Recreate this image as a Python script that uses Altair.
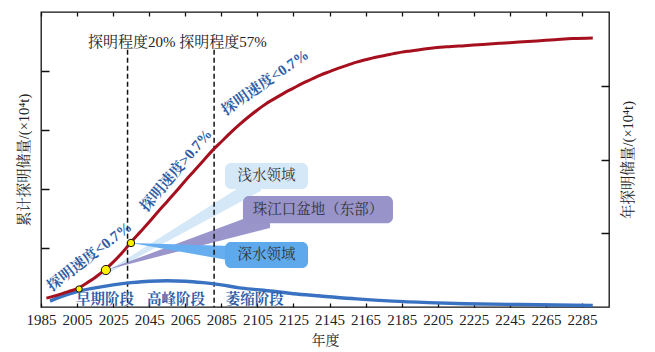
import altair as alt
import pandas as pd

FONT = "Liberation Serif, Times New Roman, Noto Serif CJK SC, Noto Sans CJK SC"

# ---- data -----------------------------------------------------------
cum_years = [1988, 1995, 2000, 2005, 2010, 2015, 2020, 2025, 2030, 2035, 2040, 2045,
             2050, 2055, 2060, 2065, 2070, 2075, 2080, 2085, 2090, 2095, 2100, 2105,
             2110, 2115, 2120, 2125, 2130, 2135, 2140, 2145, 2150, 2155, 2160, 2165,
             2170, 2175, 2180, 2185, 2190, 2195, 2200, 2210, 2220, 2230, 2240, 2250,
             2260, 2270, 2280, 2291]
cum_vals = [0.15, 0.21, 0.26, 0.31, 0.40, 0.50, 0.62, 0.76, 0.92, 1.10, 1.27, 1.44,
            1.62, 1.79, 1.96, 2.14, 2.31, 2.48, 2.65, 2.80, 2.95, 3.09, 3.22, 3.34,
            3.45, 3.54, 3.63, 3.71, 3.79, 3.86, 3.93, 3.99, 4.05, 4.10, 4.15, 4.19,
            4.23, 4.26, 4.29, 4.32, 4.34, 4.36, 4.38, 4.41, 4.43, 4.45, 4.47, 4.49,
            4.51, 4.53, 4.55, 4.56]

ann_years = [1990, 1995, 2005, 2015, 2025, 2035, 2045, 2055, 2065, 2075, 2085, 2095,
             2105, 2115, 2125, 2140, 2160, 2180, 2200, 2220, 2250, 2291]
ann_vals = [0.08, 0.13, 0.21, 0.26, 0.30, 0.33, 0.35, 0.355, 0.35, 0.33, 0.30, 0.26,
            0.235, 0.21, 0.18, 0.15, 0.11, 0.08, 0.06, 0.045, 0.034, 0.02]

series_names = ["累计探明储量", "年探明储量"]
x_ticks = list(range(1985, 2286, 20))

# milestone points on the cumulative curve
key_years = [2006.1, 2021.0, 2034.9]
key_vals = [0.305, 0.627, 1.085]
key_sizes = [40, 85, 55]

stage_names = ["早期阶段", "高峰阶段", "萎缩阶段"]
stage_years = [2020.5, 2059.9, 2103.5]

milestone_years = [2033, 2081]

speed_labels = ["探明速度<0.7%", "探明速度>0.7%", "探明速度<0.7%"]
speed_years = [2011.8, 2059.9, 2109.2]
speed_vals = [0.86, 2.32, 3.81]
speed_angles = [322, 310, 325]

box_labels = ["浅水领域", "珠江口盆地（东部）", "深水领域"]
box_colors = ["#d5e8f8", "#9893c9", "#5ea8ec"]
box_x1 = [2087.0, 2097.0, 2087.0]
box_x2 = [2133.1, 2180.2, 2133.1]
box_y1 = [2.44, 1.88, 1.10]
box_y2 = [2.00, 1.42, 0.66]
wedge_colors = ["#d5e8f8", "#9a96cc", "#66aef0"]
wedge_base_x = [2107.0, 2112.0, 2095.4]
wedge_base_hi = [2.26, 1.66, 1.03]
wedge_base_lo = [1.97, 1.34, 0.76]

# ---- scales ---------------------------------------------------------
XS = alt.Scale(domain=[1985, 2300], nice=False, zero=False)
YL = alt.Scale(domain=[0, 5], nice=False, zero=True)
YR = alt.Scale(domain=[0, 4], nice=False, zero=True)
CS = alt.Scale(domain=series_names, range=["#a50f1e", "#3a72c2"])

W, H = 568, 295


def xnone(field="year"):
    return alt.X(f"{field}:Q", scale=XS, axis=None)


def ynone(field="value"):
    return alt.Y(f"{field}:Q", scale=YL, axis=None)


df_cum = pd.DataFrame({"year": cum_years, "value": cum_vals, "series": series_names[0]})
df_ann = pd.DataFrame({"year": ann_years, "value": ann_vals, "series": series_names[1]})

layers = []

# wedges
for i in range(3):
    dfw = pd.DataFrame({
        "year": [key_years[i], wedge_base_x[i]],
        "hi": [key_vals[i], wedge_base_hi[i]],
        "lo": [key_vals[i], wedge_base_lo[i]],
    })
    layers.append(alt.Chart(dfw).mark_area(color=wedge_colors[i], opacity=1).encode(
        x=xnone(), y=ynone("hi"), y2="lo:Q"))

# boxes
for i in range(3):
    dfb = pd.DataFrame({"x1": [box_x1[i]], "x2": [box_x2[i]], "y1": [box_y1[i]],
                        "y2": [box_y2[i]], "label": [box_labels[i]]})
    layers.append(alt.Chart(dfb).mark_rect(color=box_colors[i], cornerRadius=6).encode(
        x=xnone("x1"), x2="x2:Q", y=ynone("y1"), y2="y2:Q"))
    layers.append(alt.Chart(dfb).transform_calculate(
        xm="(datum.x1 + datum.x2) / 2", ym="(datum.y1 + datum.y2) / 2"
    ).mark_text(font=FONT, fontSize=14.5, color="#333333").encode(
        x=xnone("xm"), y=ynone("ym"), text="label:N"))

# dashed milestone lines
df_ms = pd.DataFrame({"year": milestone_years, "top": [4.36, 4.36], "bot": [0, 0]})
layers.append(alt.Chart(df_ms).mark_rule(color="#111111", strokeWidth=1.5,
                                         strokeDash=[5, 3]).encode(
    x=xnone(), y=ynone("top"), y2="bot:Q"))

# annual line (right axis) + top ticks
layers.append(alt.Chart(df_ann).mark_line(strokeWidth=3.4, interpolate="monotone").encode(
    x=alt.X("year:Q", scale=XS, axis=alt.Axis(
        orient="bottom", offset=-H, values=x_ticks, labels=False, ticks=True,
        tickSize=4, tickColor="#111", tickWidth=1.3, domain=False, grid=False, title=None)),
    y=alt.Y("value:Q", scale=YR, axis=alt.Axis(
        orient="left", offset=-W, values=[1, 2, 3], labels=False, tickSize=8,
        tickColor="#111", tickWidth=1.5, domain=False, grid=False,
        title="年探明储量/(×10⁴t)", titleAngle=270, titleX=19, titleY=H / 2,
        titleAlign="center", titleBaseline="middle", titleFont=FONT, titleFontSize=14.5,
        titleFontWeight="normal", titleColor="#222")),
    color=alt.Color("series:N", scale=CS, legend=None)))

# cumulative line (left axis) + bottom labels
layers.append(alt.Chart(df_cum).mark_line(strokeWidth=3, interpolate="monotone").encode(
    x=alt.X("year:Q", scale=XS, axis=alt.Axis(
        orient="bottom", values=x_ticks, ticks=False, domain=False, grid=False,
        format="d", labelFont=FONT, labelFontSize=15, labelColor="#222",
        labelPadding=5, labelFlush=False, labelOverlap=False,
        title="年度", titleFont=FONT, titleFontSize=14, titleFontWeight="normal",
        titleColor="#222", titlePadding=6)),
    y=alt.Y("value:Q", scale=YL, axis=alt.Axis(
        orient="right", offset=-W, values=[1, 2, 3, 4], labels=False, tickSize=8,
        tickColor="#111", tickWidth=1.5, domain=False, grid=False,
        title="累计探明储量/(×10⁴t)", titleAngle=270, titleX=-17, titleY=H / 2,
        titleAlign="center", titleBaseline="middle", titleFont=FONT, titleFontSize=14.5,
        titleFontWeight="normal", titleColor="#222")),
    color=alt.Color("series:N", scale=CS, legend=alt.Legend(
        orient="none", legendX=330, legendY=0, direction="horizontal", title=None,
        symbolType="circle", symbolSize=8, symbolStrokeWidth=2.5, labelFont=FONT,
        labelFontSize=15.5, labelColor="#333", columnPadding=10, padding=0))))

# milestone points
df_key = pd.DataFrame({"year": key_years, "value": key_vals, "size": key_sizes})
layers.append(alt.Chart(df_key).mark_point(filled=True, fill="#fff000", stroke="#111",
                                           strokeWidth=1, opacity=1).encode(
    x=xnone(), y=ynone(), size=alt.Size("size:Q", scale=None, legend=None)))

# speed labels
for i in range(3):
    dfs = pd.DataFrame({"year": [speed_years[i]], "value": [speed_vals[i]],
                        "label": [speed_labels[i]]})
    layers.append(alt.Chart(dfs).mark_text(font=FONT, fontSize=15, fontWeight="bold",
                                           color="#2f5ea6", angle=speed_angles[i]).encode(
        x=xnone(), y=ynone(), text="label:N"))

# stage labels + bottom inward ticks
df_stage = pd.DataFrame({"year": stage_years, "value": [0.12] * 3, "label": stage_names})
layers.append(alt.Chart(df_stage).mark_text(font=FONT, fontSize=14.5, fontWeight="bold",
                                            color="#2f5ea6").encode(
    x=alt.X("year:Q", scale=XS, axis=alt.Axis(
        orient="top", offset=-H, values=x_ticks, labels=False, ticks=True, tickSize=4,
        tickColor="#111", tickWidth=1.3, domain=False, grid=False, title=None)),
    y=ynone(), text="label:N"))

# milestone header
df_head = pd.DataFrame({"year": [2011.1], "value": [4.49], "label": ["探明程度20% 探明程度57%"]})
layers.append(alt.Chart(df_head).mark_text(font=FONT, fontSize=15, color="#222",
                                           align="left").encode(
    x=xnone(), y=ynone(), text="label:N"))

chart = alt.layer(*layers).resolve_scale(
    y="independent", size="independent"
).resolve_axis(x="independent", y="independent").properties(
    width=W, height=H,
    padding={"left": 41, "top": 12, "right": 46, "bottom": 45},
    autosize=alt.AutoSizeParams(type="none"),
).configure_view(stroke="#111", strokeWidth=1.3)

chart.save("out.html", embed_options={"renderer": "svg", "actions": False})
